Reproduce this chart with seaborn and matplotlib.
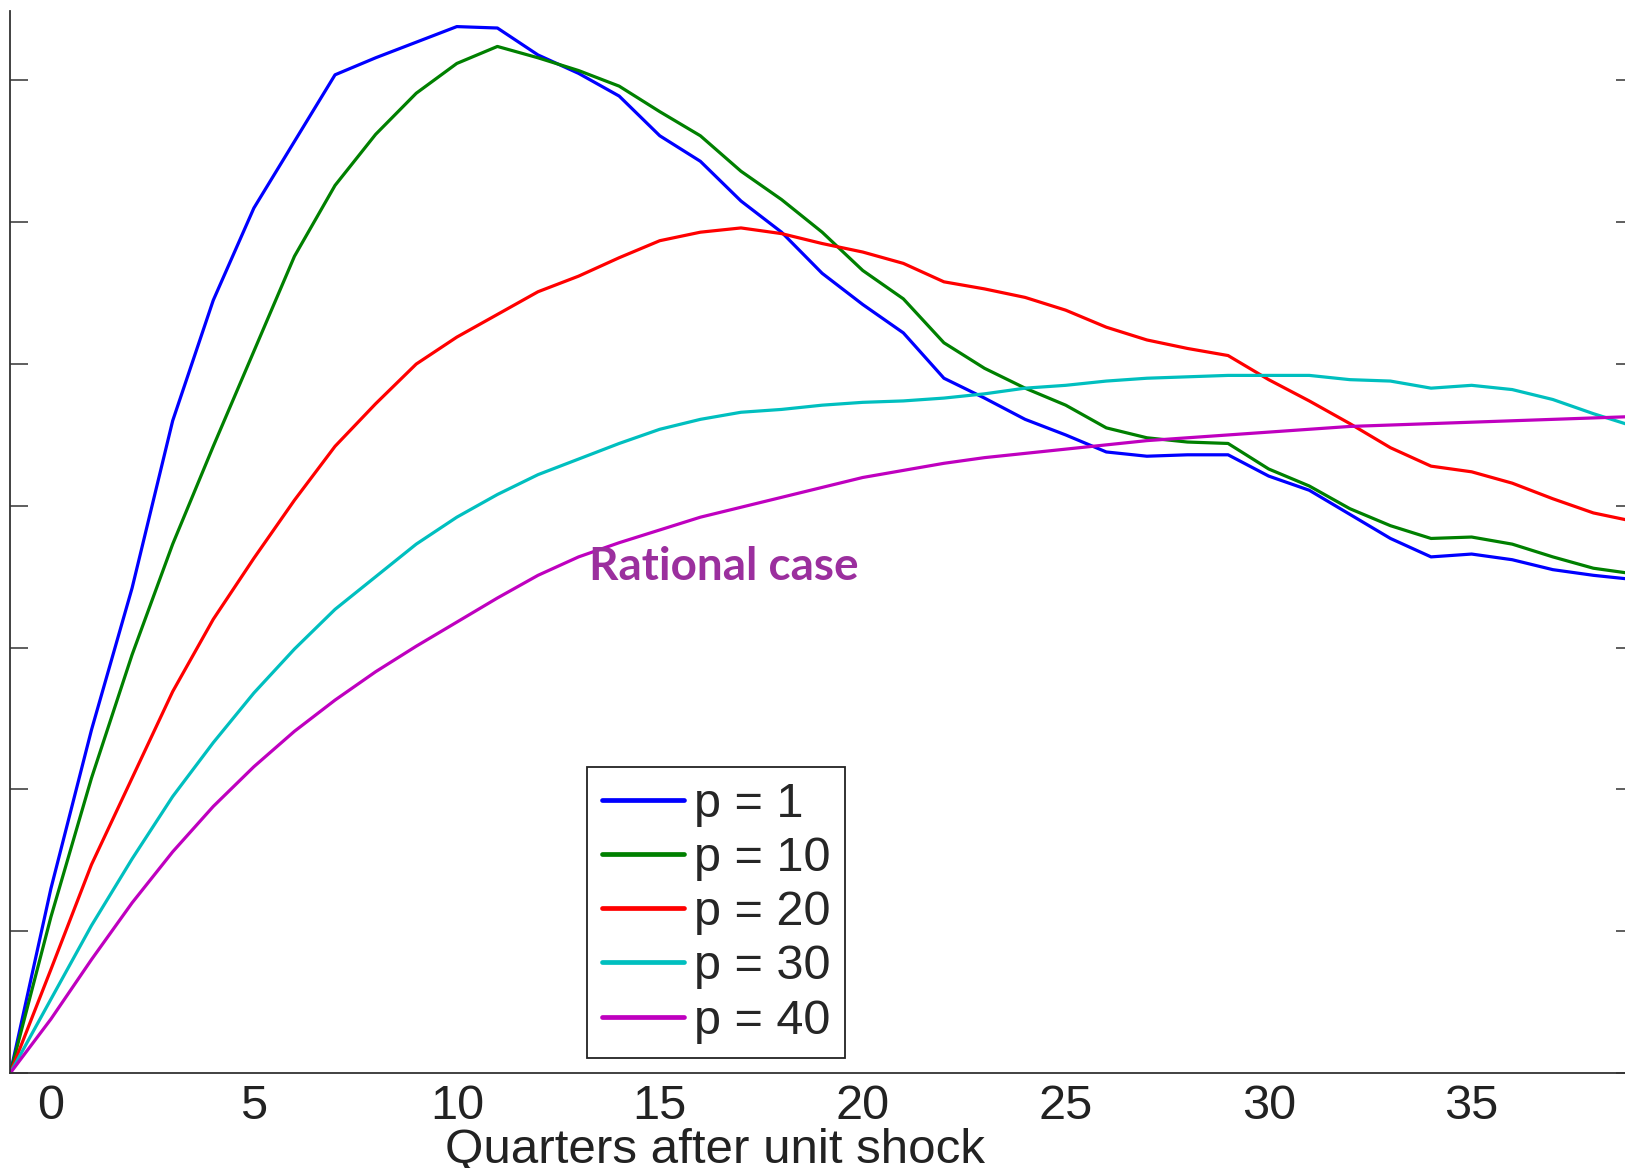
import matplotlib
matplotlib.use('Agg')
import matplotlib.pyplot as plt
import numpy as np
import pandas as pd
import seaborn as sns

# quarters after shock
quarters = list(range(-1, 40))

p1 = [0, 1.30, 2.42, 3.42, 4.60, 5.45, 6.10, 6.57, 7.04, 7.16, 7.27, 7.38, 7.37, 7.18,
      7.05, 6.89, 6.61, 6.43, 6.15, 5.93, 5.64, 5.42, 5.22, 4.90, 4.76, 4.61, 4.50, 4.38,
      4.35, 4.36, 4.36, 4.21, 4.11, 3.94, 3.77, 3.64, 3.66, 3.62, 3.55, 3.51, 3.48]
p10 = [0, 1.10, 2.08, 2.95, 3.73, 4.42, 5.09, 5.76, 6.26, 6.62, 6.91, 7.12, 7.24, 7.16,
       7.07, 6.96, 6.78, 6.61, 6.36, 6.16, 5.93, 5.66, 5.46, 5.15, 4.97, 4.83, 4.71, 4.55,
       4.48, 4.45, 4.44, 4.26, 4.14, 3.98, 3.86, 3.77, 3.78, 3.73, 3.64, 3.56, 3.52]
p20 = [0, 0.73, 1.47, 2.08, 2.69, 3.20, 3.63, 4.04, 4.42, 4.72, 5.00, 5.19, 5.35, 5.51,
       5.62, 5.75, 5.87, 5.93, 5.96, 5.92, 5.85, 5.79, 5.71, 5.58, 5.53, 5.47, 5.38, 5.26,
       5.17, 5.11, 5.06, 4.89, 4.74, 4.58, 4.41, 4.28, 4.24, 4.16, 4.05, 3.95, 3.89]
p30 = [0, 0.52, 1.04, 1.51, 1.95, 2.33, 2.68, 2.99, 3.27, 3.50, 3.73, 3.92, 4.08, 4.22,
       4.33, 4.44, 4.54, 4.61, 4.66, 4.68, 4.71, 4.73, 4.74, 4.76, 4.79, 4.83, 4.85, 4.88,
       4.90, 4.91, 4.92, 4.92, 4.92, 4.89, 4.88, 4.83, 4.85, 4.82, 4.75, 4.65, 4.56]
p40 = [0, 0.38, 0.80, 1.20, 1.56, 1.88, 2.16, 2.41, 2.63, 2.83, 3.01, 3.18, 3.35, 3.51,
       3.64, 3.74, 3.83, 3.92, 3.99, 4.06, 4.13, 4.20, 4.25, 4.30, 4.34, 4.37, 4.40, 4.43,
       4.46, 4.48, 4.50, 4.52, 4.54, 4.56, 4.57, 4.58, 4.59, 4.60, 4.61, 4.62, 4.63]

labels = ['p = 1', 'p = 10', 'p = 20', 'p = 30', 'p = 40']
colors = ['#0000ff', '#008000', '#ff0000', '#00bfbf', '#bf00bf']

df = pd.DataFrame({'q': quarters * 5,
                   'v': p1 + p10 + p20 + p30 + p40,
                   'p': np.repeat(labels, len(quarters))})

sns.set_style('white')
plt.rcParams['font.family'] = ['Liberation Sans', 'DejaVu Sans']

W, H = 1625, 1168
fig = plt.figure(figsize=(W / 100, H / 100), dpi=100)
ax = fig.add_axes([10.3 / W, (H - 1073) / H, (1634 - 10.3) / W, (1073 - 11) / H])

sns.lineplot(data=df, x='q', y='v', hue='p', palette=colors, linewidth=2.3,
             ax=ax, legend=False)

ax.set_xlim(-1, 39)
ax.set_ylim(0, 7.49)
ax.set_xticks(range(0, 40, 5))
ax.set_yticks(range(0, 8))
ax.set_yticklabels([])
ax.set_xlabel('')
ax.set_ylabel('')
ax.tick_params(axis='x', direction='in', length=13, width=1.1, color='#333333',
               labelsize=35, pad=8, labelcolor='#222222')
ax.tick_params(axis='y', direction='in', length=13, width=1.1, color='#333333',
               left=True, right=True)
for s in ['left', 'bottom', 'right']:
    ax.spines[s].set_color('#333333')
    ax.spines[s].set_linewidth(1.3)
ax.spines['top'].set_visible(False)

fig.text(715 / W, 1 - 1163 / H, 'Quarters after unit shock', ha='center',
         va='baseline', fontsize=35.5, color='#222222')

ax.text(16.58, 3.57, 'Rational case', ha='center', va='center', color='#9b2f9e',
        fontsize=33, fontweight='bold', family=['Lato', 'DejaVu Sans'])

handles = [plt.Line2D([], [], color=c, lw=3.4) for c in colors]
leg = ax.legend(handles, labels, loc='upper left',
                bbox_to_anchor=(587 / W, 1 - 767 / H), bbox_transform=fig.transFigure,
                borderaxespad=0, fontsize=35, handlelength=1.7, handletextpad=0.2,
                labelspacing=0.19, borderpad=0.3, fancybox=False, framealpha=1)
leg.get_frame().set_edgecolor('#222222')
leg.get_frame().set_linewidth(1.3)

fig.savefig('out.png', dpi=100)
